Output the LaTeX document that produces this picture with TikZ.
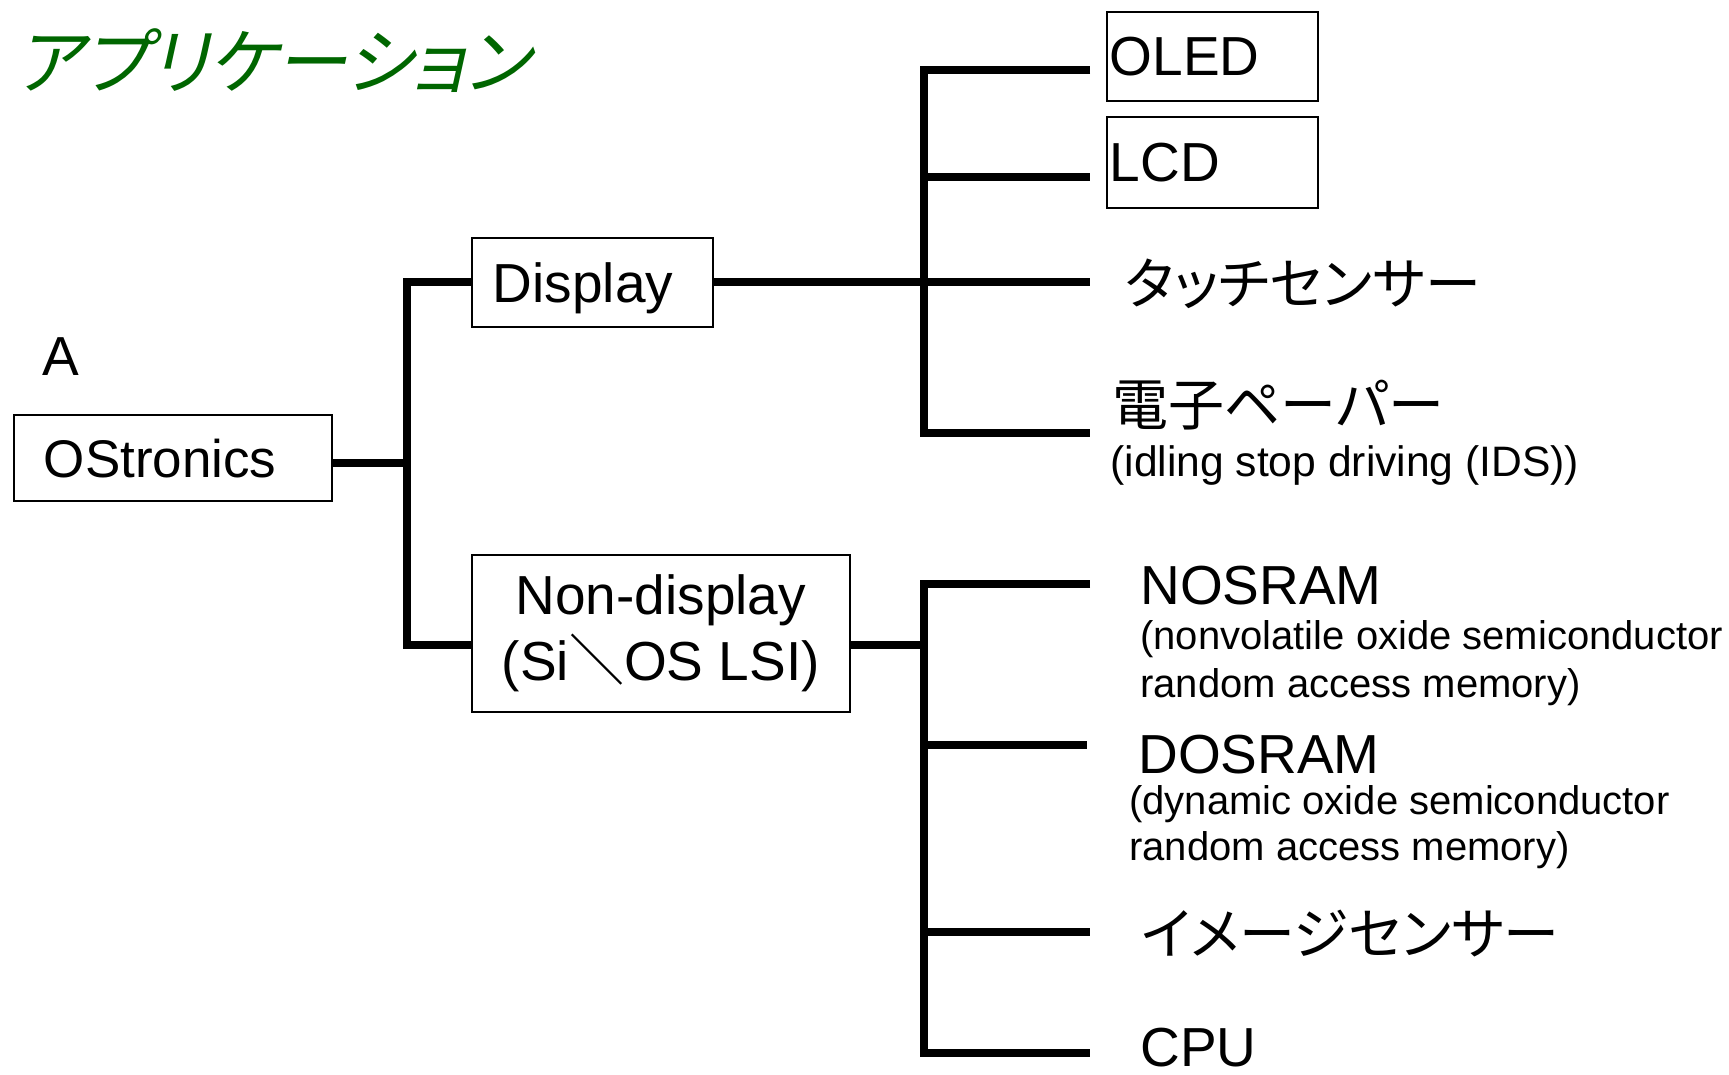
\documentclass[tikz,border=0pt]{standalone}
\usepackage{fontspec}
\setmainfont{Liberation Sans}
\newfontfamily\jp[RawFeature=+palt]{Noto Sans CJK JP}
\newfontfamily\jptitle[FakeSlant=0.22,RawFeature=+palt]{Noto Sans CJK JP}
\definecolor{titlegreen}{RGB}{0,102,0}
\newfontfamily\jpfull{Noto Sans CJK JP}
\tikzset{
  conn/.style={line width=3.7pt, line join=miter, line cap=butt},
  box/.style={draw, line width=0.8pt, inner sep=0pt},
  big/.style={font=\fontsize{27.5}{33}\selectfont},
  small/.style={font=\fontsize{20}{24}\selectfont, inner sep=0pt, anchor=base west},
  caps/.style={text height=19.7pt, text depth=0pt},
  jplabel/.style={font=\jp\fontsize{28}{32}\selectfont, inner sep=0pt, anchor=west},
}
\begin{document}
\begin{tikzpicture}[x=0.5pt,y=-0.5pt]
\useasboundingbox (0,0) rectangle (1729,1075);

% heading
\node[font=\jptitle\fontsize{36}{40}\selectfont, text=titlegreen, anchor=west, inner sep=0pt] (title) at (16,61) {アプリケーション};

% root
\node[big, anchor=base west, inner sep=0pt] (lblA) at (42,375) {A};
\node[box, font=\fontsize{26.5}{31}\selectfont, caps, anchor=north west, minimum height=43pt, text width=129pt, inner xsep=15pt, align=left] (ostr) at (13,414) {OStronics};

% second level
\node[box, big, caps, anchor=north west, minimum height=44.5pt, text width=99.5pt, inner xsep=10.5pt, align=left] (disp) at (471,237) {Display};
\node[box, big, anchor=north west, minimum width=189pt, minimum height=78.5pt, align=center] (nond) at (471,554) {Non-display\\(Si{\jpfull ＼}OS LSI)};

% display applications
\node[box, big, caps, anchor=north west, minimum height=44.5pt, text width=102.5pt, inner xsep=1.5pt, align=left] (oled) at (1106,11) {OLED};
\node[box, big, caps, anchor=north west, minimum height=45.5pt, text width=102.5pt, inner xsep=1.5pt, align=left] (lcd) at (1106,116) {LCD};
\node[jplabel] (touch) at (1125,284) {タッチセンサー};
\node[jplabel] (epaper) at (1112,405) {電子ペーパー};
\node[small, font=\fontsize{21.3}{25}\selectfont] (epaperids) at (1110,476) {(idling stop driving (IDS))};

% non-display applications
\node[big, anchor=base west, inner sep=0pt] (nosram) at (1140,604) {NOSRAM};
\node[small] (nosramA) at (1140,649) {(nonvolatile oxide semiconductor};
\node[small] (nosramB) at (1140,697) {random access memory)};
\node[big, anchor=base west, inner sep=0pt] (dosram) at (1138,773) {DOSRAM};
\node[small] (dosramA) at (1129,814) {(dynamic oxide semiconductor};
\node[small] (dosramB) at (1129,860) {random access memory)};
\node[jplabel] (imgsens) at (1141,934) {イメージセンサー};
\node[big, anchor=base west, inner sep=0pt] (cpu) at (1140,1066) {CPU};

% root tree
\coordinate (j0) at (407,463);
\coordinate (t1) at (407,282);
\coordinate (t2) at (407,645);
\draw[conn] (ostr.east |- j0) -- (j0);
\draw[conn] (disp.west |- t1) -- (t1) -- (t2) -- (nond.west |- t2);

% display tree
\coordinate (d1) at (924,70);
\coordinate (d2) at (924,177);
\coordinate (d4) at (924,433);
\coordinate (e1) at (1090,70);
\coordinate (e2) at (1090,177);
\coordinate (e3) at (1090,282);
\coordinate (e4) at (1090,433);
\draw[conn] (e1) -- (d1) -- (d4) -- (e4);
\draw[conn] (d2) -- (e2);
\draw[conn] (disp.east |- e3) -- (e3);

% non-display tree
\coordinate (n0) at (924,645);
\coordinate (n1) at (924,584);
\coordinate (n2) at (924,745);
\coordinate (n3) at (924,932);
\coordinate (n4) at (924,1053);
\coordinate (f1) at (1090,584);
\coordinate (f2) at (1087,745);
\coordinate (f3) at (1090,932);
\coordinate (f4) at (1090,1053);
\draw[conn] (nond.east |- n0) -- (n0);
\draw[conn] (f1) -- (n1) -- (n4) -- (f4);
\draw[conn] (n2) -- (f2);
\draw[conn] (n3) -- (f3);
\end{tikzpicture}
\end{document}
